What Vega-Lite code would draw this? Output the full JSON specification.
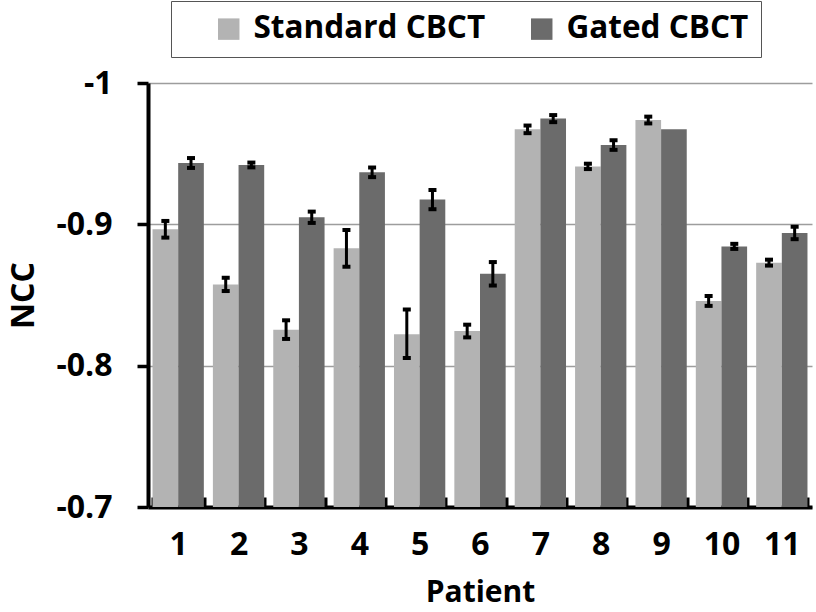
{
  "$schema": "https://vega.github.io/schema/vega-lite/v6.json",
  "autosize": "none",
  "width": 664,
  "height": 424,
  "padding": {"left": 148, "top": 83, "right": 4, "bottom": 105},
  "background": "white",
  "config": {
    "font": "Open Sans",
    "view": {"stroke": null}
  },
  "data": {
    "values": [
      {"patient": 1, "group": "Standard CBCT", "value": -0.8965, "lo": -0.8906, "hi": -0.9024},
      {"patient": 1, "group": "Gated CBCT", "value": -0.9434, "lo": -0.9399, "hi": -0.9469},
      {"patient": 2, "group": "Standard CBCT", "value": -0.8575, "lo": -0.8528, "hi": -0.8622},
      {"patient": 2, "group": "Gated CBCT", "value": -0.942, "lo": -0.9403, "hi": -0.9437},
      {"patient": 3, "group": "Standard CBCT", "value": -0.8255, "lo": -0.8189, "hi": -0.8321},
      {"patient": 3, "group": "Gated CBCT", "value": -0.905, "lo": -0.901, "hi": -0.909},
      {"patient": 4, "group": "Standard CBCT", "value": -0.883, "lo": -0.87, "hi": -0.896},
      {"patient": 4, "group": "Gated CBCT", "value": -0.9368, "lo": -0.9334, "hi": -0.9402},
      {"patient": 5, "group": "Standard CBCT", "value": -0.8222, "lo": -0.8055, "hi": -0.8397},
      {"patient": 5, "group": "Gated CBCT", "value": -0.9175, "lo": -0.9107, "hi": -0.9243},
      {"patient": 6, "group": "Standard CBCT", "value": -0.8245, "lo": -0.82, "hi": -0.829},
      {"patient": 6, "group": "Gated CBCT", "value": -0.865, "lo": -0.8567, "hi": -0.8733},
      {"patient": 7, "group": "Standard CBCT", "value": -0.9672, "lo": -0.9645, "hi": -0.9699},
      {"patient": 7, "group": "Gated CBCT", "value": -0.9748, "lo": -0.9723, "hi": -0.9773},
      {"patient": 8, "group": "Standard CBCT", "value": -0.941, "lo": -0.9391, "hi": -0.9429},
      {"patient": 8, "group": "Gated CBCT", "value": -0.9561, "lo": -0.9527, "hi": -0.9595},
      {"patient": 9, "group": "Standard CBCT", "value": -0.9738, "lo": -0.9714, "hi": -0.9762},
      {"patient": 9, "group": "Gated CBCT", "value": -0.9672, "lo": null, "hi": null},
      {"patient": 10, "group": "Standard CBCT", "value": -0.8458, "lo": -0.8423, "hi": -0.8493},
      {"patient": 10, "group": "Gated CBCT", "value": -0.8844, "lo": -0.8826, "hi": -0.8862},
      {"patient": 11, "group": "Standard CBCT", "value": -0.8729, "lo": -0.8708, "hi": -0.875},
      {"patient": 11, "group": "Gated CBCT", "value": -0.8939, "lo": -0.8895, "hi": -0.8983}
    ]
  },
  "encoding": {
    "x": {
      "field": "patient",
      "type": "ordinal",
      "sort": "ascending",
      "scale": {"paddingInner": 0.15, "paddingOuter": 0.075},
      "axis": {
        "title": "Patient",
        "titleFontSize": 30,
        "titleFontWeight": "bold",
        "titleColor": "black",
        "titlePadding": 17,
        "labelAngle": 0,
        "labelFontSize": 32,
        "labelFontWeight": "bold",
        "labelColor": "black",
        "labelPadding": 32,
        "domainColor": "black",
        "domainWidth": 4,
        "tickColor": "black",
        "tickWidth": 4,
        "tickSize": -10,
        "tickBand": "extent",
        "grid": false
      }
    },
    "xOffset": {"field": "group", "sort": ["Standard CBCT", "Gated CBCT"]}
  },
  "layer": [
    {
      "mark": {"type": "bar"},
      "encoding": {
        "y": {
          "field": "value",
          "type": "quantitative",
          "scale": {"domain": [-0.7, -1], "nice": false, "zero": false},
          "axis": {
            "title": "NCC",
            "titleFontSize": 32,
            "titleFontWeight": "bold",
            "titleColor": "black",
            "titlePadding": 15,
            "values": [-1, -0.9, -0.8, -0.7],
            "labelExpr": "'-' + format(-datum.value, '~g')",
            "labelFontSize": 32,
            "labelFontWeight": "bold",
            "labelColor": "black",
            "labelPadding": 25,
            "domainColor": "black",
            "domainWidth": 4,
            "tickColor": "black",
            "tickWidth": 3.5,
            "tickSize": 11,
            "grid": true,
            "gridColor": "#9d9d9d",
            "gridWidth": 1.5
          }
        },
        "y2": {"datum": -0.7},
        "color": {
          "field": "group",
          "type": "nominal",
          "scale": {"domain": ["Standard CBCT", "Gated CBCT"], "range": ["#b3b3b3", "#6b6b6b"]},
          "legend": {
            "title": null,
            "orient": "none",
            "legendX": 23,
            "legendY": -82,
            "direction": "horizontal",
            "symbolType": "square",
            "symbolSize": 460,
            "symbolStrokeWidth": 0,
            "symbolOffset": 30,
            "labelOffset": 9,
            "labelFontSize": 31.5,
            "labelFontWeight": "bold",
            "labelColor": "black",
            "labelLimit": 400,
            "columnPadding": 10,
            "padding": 12,
            "strokeColor": "#555555",
            "fillColor": "white"
          }
        }
      }
    },
    {
      "transform": [{"filter": "datum.lo != null"}],
      "mark": {"type": "rule", "color": "black", "strokeWidth": 3},
      "encoding": {
        "y": {"field": "lo", "type": "quantitative"},
        "y2": {"field": "hi"}
      }
    },
    {
      "transform": [{"filter": "datum.lo != null"}],
      "mark": {"type": "tick", "color": "black", "thickness": 4, "size": 8, "opacity": 1},
      "encoding": {
        "y": {"field": "lo", "type": "quantitative"}
      }
    },
    {
      "transform": [{"filter": "datum.lo != null"}],
      "mark": {"type": "tick", "color": "black", "thickness": 4, "size": 8, "opacity": 1},
      "encoding": {
        "y": {"field": "hi", "type": "quantitative"}
      }
    }
  ]
}
